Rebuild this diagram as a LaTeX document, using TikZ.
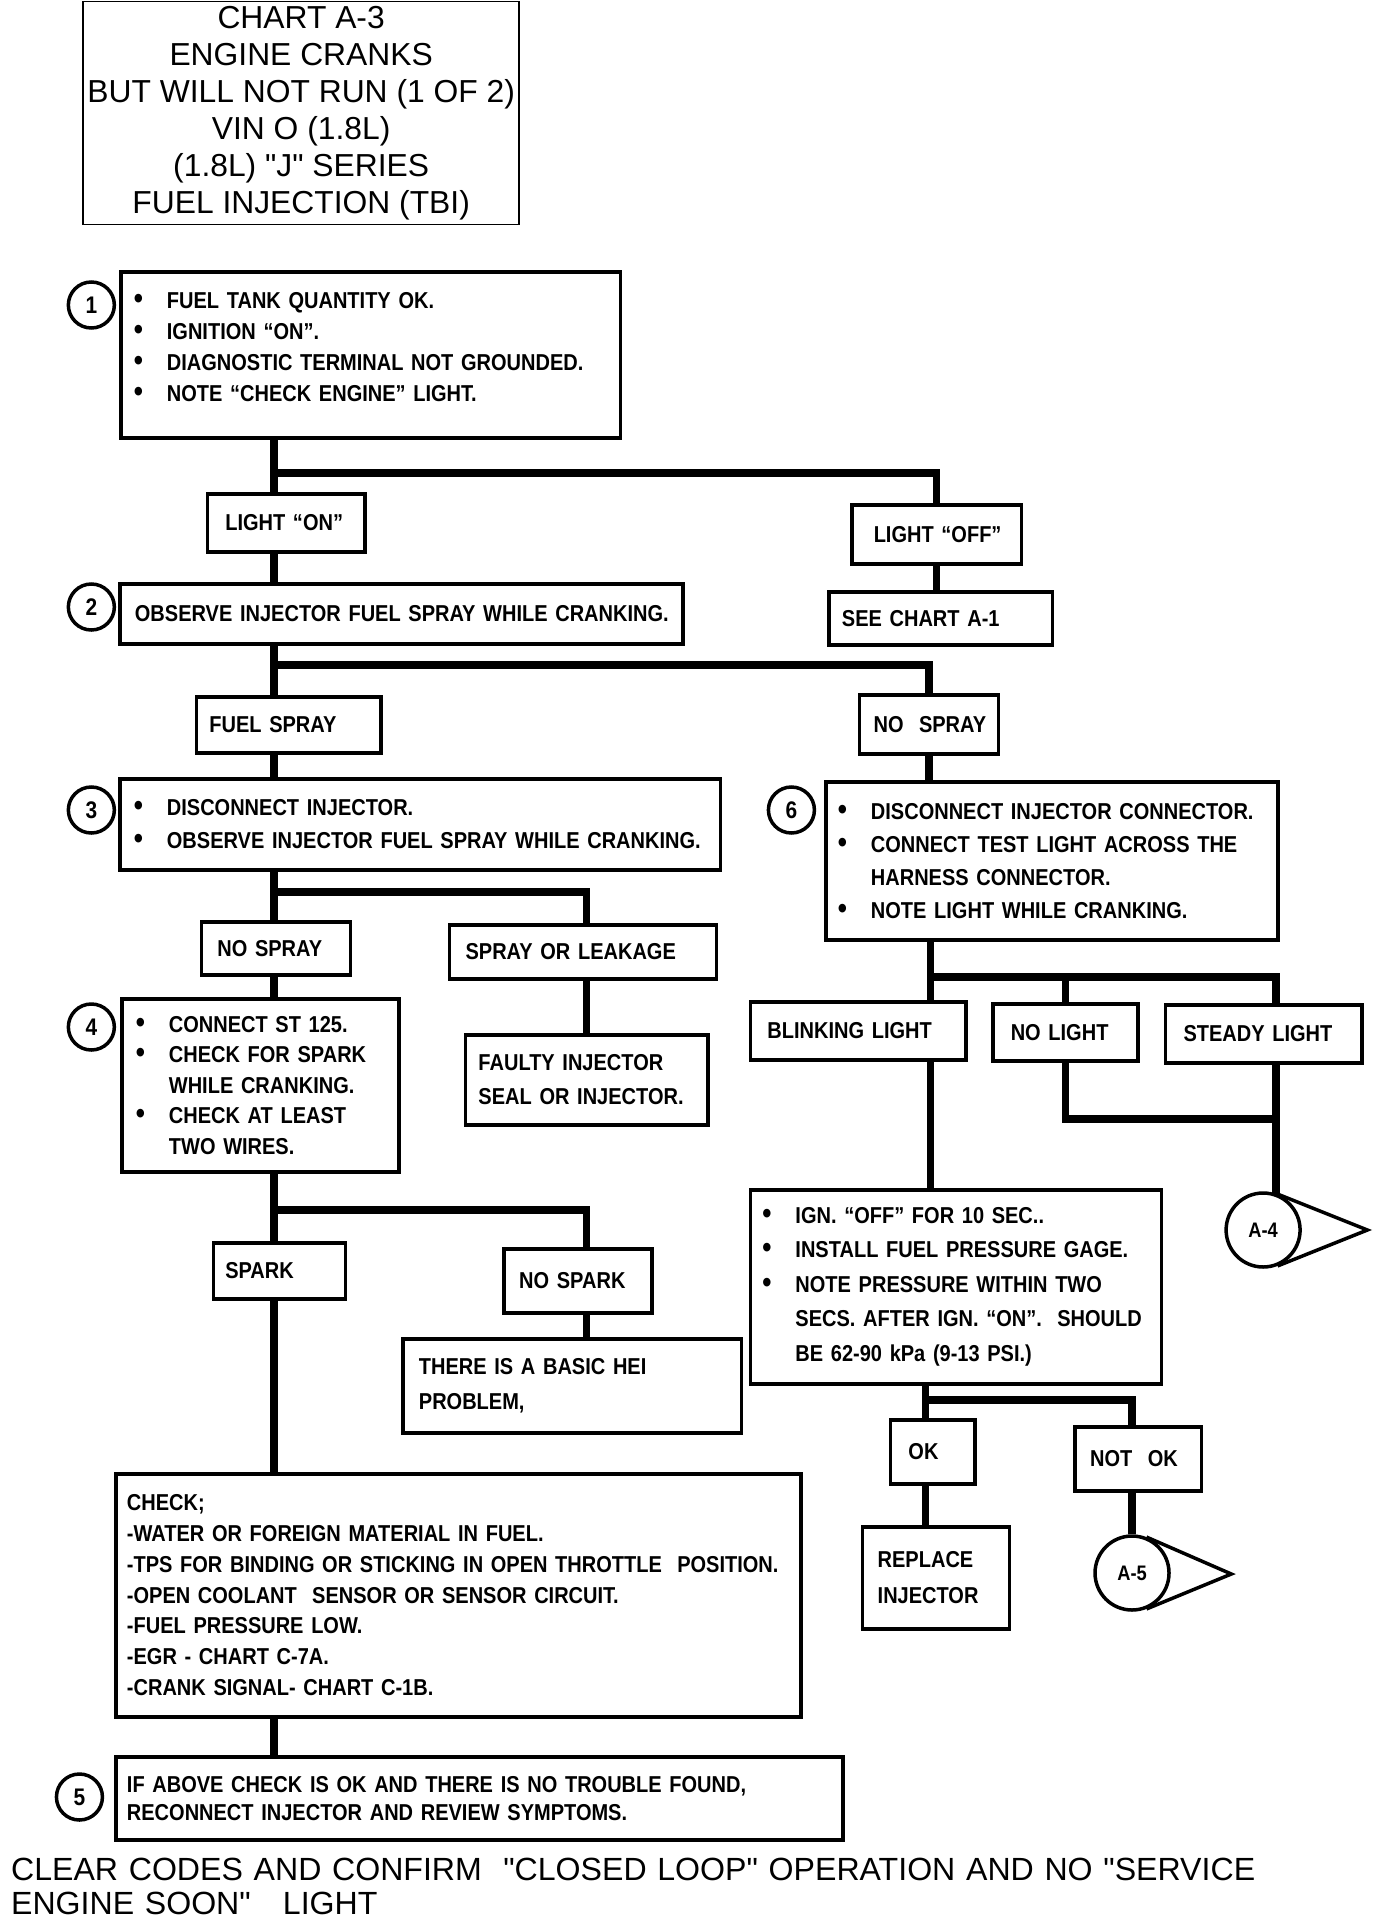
\documentclass[tikz,border=0pt]{standalone}
\usepackage{fontspec}
\setmainfont{Liberation Sans}[Ligatures=TeXOff]
\newfontfamily\boxfont[FakeStretch=0.87]{Liberation Sans Bold}
\newcommand\blt{\makebox[33pt][l]{\fontsize{30}{30}\selectfont\textbullet}}
\begin{document}
\begin{tikzpicture}[x=0.993pt, y=-1pt,
  box/.style n args={4}{draw, line width=3.5pt, anchor=north west, inner xsep=0pt, inner ysep=0pt,
    minimum width=0.993*#1pt, minimum height=#2pt, text width=0.993*#1pt, align=left,
    execute at begin node={\leftskip=#3pt}, font=\boxfont\fontsize{23}{#4}\selectfont},
  num/.style={draw, circle, line width=3.5pt, minimum size=46pt, inner sep=0pt, font=\boxfont\fontsize{24}{24}\selectfont},
  offpage/.style={draw, circle, line width=3.5pt, minimum size=74pt, inner sep=0pt, font=\boxfont\fontsize{21}{21}\selectfont},
  link/.style={line width=7.5pt},
  pointer/.style={line width=3.5pt}]
\useasboundingbox (0,0) rectangle (1401.8,1918);
\node[draw, line width=1.5pt, anchor=north west, minimum width=436pt, minimum height=223pt, align=center,
  font=\fontsize{31.8}{37}\selectfont] (head) at (83,1)
  {CHART A-3\\ENGINE CRANKS\\BUT WILL NOT RUN (1 OF 2)\\VIN O (1.8L)\\(1.8L) "J" SERIES\\FUEL INJECTION (TBI)};

\node[box={503}{166}{13}{31}, text depth=108pt] (s1) at (120,270)
  {\blt FUEL TANK QUANTITY OK.\\ \blt IGNITION “ON”.\\ \blt DIAGNOSTIC TERMINAL NOT GROUNDED.\\ \blt NOTE “CHECK ENGINE” LIGHT.};
\node[box={159}{58}{18}{31}] (lon) at (207,492) {LIGHT “ON”};
\node[box={171}{59}{22}{31}] (loff) at (856,503) {LIGHT “OFF”};
\node[box={225}{53}{13}{31}] (see) at (833,590) {SEE CHART A-1};
\node[box={567}{60}{15}{31}] (s2) at (119,582) {OBSERVE INJECTOR FUEL SPRAY WHILE CRANKING.};
\node[box={186}{56}{13}{31}] (fsp) at (196,695) {FUEL SPRAY};
\node[box={140}{59}{14}{31}] (nsr) at (864,693) {NO\ \ SPRAY};
\node[box={605}{91}{14}{33}] (s3) at (119,777)
  {\blt DISCONNECT INJECTOR.\\ \blt OBSERVE INJECTOR FUEL SPRAY WHILE CRANKING.};
\node[box={455}{158}{12}{33}] (s6) at (830,780)
  {\blt DISCONNECT INJECTOR CONNECTOR.\\ \blt CONNECT TEST LIGHT ACROSS THE\\ \hspace*{33pt}HARNESS CONNECTOR.\\ \blt NOTE LIGHT WHILE CRANKING.};
\node[box={150}{53}{16}{31}] (nsl) at (201,920) {NO SPRAY};
\node[box={269}{54}{16}{31}] (sol) at (451,923) {SPRAY OR LEAKAGE};
\node[box={244}{90}{13}{34}] (fau) at (467,1033) {FAULTY INJECTOR\\SEAL OR INJECTOR.};
\node[box={279}{173}{14}{30.5}] (s4) at (121,997)
  {\blt CONNECT ST 125.\\ \blt CHECK FOR SPARK\\ \hspace*{33pt}WHILE CRANKING.\\ \blt CHECK AT LEAST\\ \hspace*{33pt}TWO WIRES.};
\node[box={217}{58}{17}{31}] (bli) at (754,1000) {BLINKING LIGHT};
\node[box={146}{57}{18}{31}] (nol) at (998,1002) {NO LIGHT};
\node[box={198}{58}{18}{31}] (sty) at (1172,1003) {STEADY LIGHT};
\node[box={133}{56}{12}{31}] (spk) at (213,1241) {SPARK};
\node[box={149}{64}{15}{31}] (nsk) at (506,1247) {NO SPARK};
\node[box={341}{94}{16}{35}] (hei) at (404,1337) {THERE IS A BASIC HEI\\PROBLEM,};
\node[box={414}{194}{12}{34.5}] (ign) at (754,1188)
  {\blt IGN. “OFF” FOR 10 SEC..\\ \blt INSTALL FUEL PRESSURE GAGE.\\ \blt NOTE PRESSURE WITHIN TWO\\
   \hspace*{33pt}SECS. AFTER IGN. “ON”.\ \ SHOULD\\ \hspace*{33pt}BE 62-90 kPa (9-13 PSI.)};
\node[box={85}{64}{18}{31}] (ok) at (895,1418) {OK};
\node[box={127}{64}{15}{31}] (nok) at (1081,1425) {NOT\ \ OK};
\node[box={148}{102}{15}{36}] (rep) at (867,1525) {REPLACE\\INJECTOR};
\node[box={690}{243}{11}{30.8}] (chk) at (115,1472)
  {CHECK;\\ -WATER OR FOREIGN MATERIAL IN FUEL.\\ -TPS FOR BINDING OR STICKING IN OPEN THROTTLE\ \ POSITION.\\
   -OPEN COOLANT\ \ SENSOR OR SENSOR CIRCUIT.\\ -FUEL PRESSURE LOW.\\ -EGR - CHART C-7A.\\ -CRANK SIGNAL- CHART C-1B.};
\node[box={732}{83}{11}{28}] (s5) at (115,1755)
  {IF ABOVE CHECK IS OK AND THERE IS NO TROUBLE FOUND,\\ RECONNECT INJECTOR AND REVIEW SYMPTOMS.};

\node[num] (c1) at (92,305) {1};
\node[num] (c2) at (92,607) {2};
\node[num] (c3) at (92,810) {3};
\node[num] (c4) at (92,1027) {4};
\node[num] (c5) at (80,1797) {5};
\node[num] (c6) at (797,810) {6};

\node[offpage] (a4) at (1272,1230) {A-4};
\node[offpage] (a5) at (1140,1573) {A-5};
\coordinate (a4tip) at (1377,1230);
\coordinate (a5tip) at (1240,1574);
\draw[pointer] (a4.68) -- (a4tip) -- (a4.-68);
\draw[pointer] (a5.68) -- (a5tip) -- (a5.-68);

\coordinate (j1) at (276,473);
\coordinate (j2) at (276,665);
\coordinate (j3) at (276,892);
\coordinate (j4) at (276,1210);
\coordinate (j6) at (937,977);
\coordinate (j6b) at (1285,1119);
\coordinate (j7) at (932,1400);

\draw[link] (s1.south -| j1) -- (lon.north -| j1);
\draw[link] (j1) -| (loff.north);
\draw[link] (lon.south -| j1) -- (s2.north -| j1);
\draw[link] (loff.south) -- (loff.south |- see.north);
\draw[link] (s2.south -| j2) -- (fsp.north -| j2);
\draw[link] (j2) -| (nsr.north);
\draw[link] (fsp.south -| j2) -- (s3.north -| j2);
\draw[link] (nsr.south) -- (nsr.south |- s6.north);
\draw[link] (s3.south -| j3) -- (nsl.north -| j3);
\draw[link] (j3) -| (fau.north |- sol.north);
\draw[link] (sol.south -| fau.north) -- (fau.north);
\draw[link] (nsl.south -| j3) -- (s4.north -| j3);
\draw[link] (s4.south -| j4) -- (spk.north -| j4);
\draw[link] (j4) -| (nsk.north -| fau.north);
\draw[link] (nsk.south -| fau.north) -- (hei.north -| fau.north);
\draw[link] (spk.south -| j4) -- (chk.north -| j4);
\draw[link] (chk.south -| j4) -- (s5.north -| j4);
\draw[link] (s6.south -| j6) -- (bli.north -| j6);
\draw[link] (j6) -| (nol.north);
\draw[link] (j6) -| (sty.north -| j6b);
\draw[link] (nol.south) |- (j6b);
\draw[link, shorten >=-4pt] (sty.south -| j6b) -- (a4.north -| j6b);
\draw[link] (bli.south -| j6) -- (ign.north -| j6);
\draw[link] (ign.south -| j7) -- (ok.north -| j7);
\draw[link] (j7) -| (nok.north -| a5);
\draw[link] (ok.south -| j7) -- (rep.north -| j7);
\draw[link] (nok.south -| a5) -- (a5.north);

\node[anchor=base west, inner sep=0pt, text width=1370pt, align=left, font=\fontsize{32.1}{34}\selectfont] (foot) at (11,1880)
  {CLEAR CODES AND CONFIRM\ \ "CLOSED LOOP" OPERATION AND NO "SERVICE\\ENGINE SOON"\ \ \ LIGHT};
\end{tikzpicture}
\end{document}
